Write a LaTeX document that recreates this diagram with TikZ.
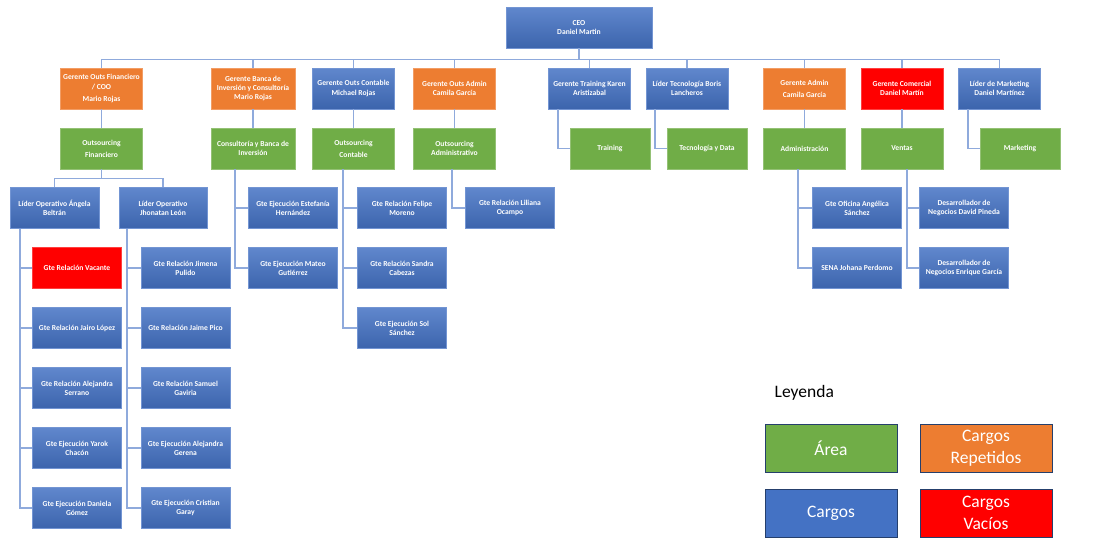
\documentclass[tikz,border=0pt]{standalone}
\usepackage{fontspec}
\setmainfont{Carlito}
\definecolor{cblue}{HTML}{4472C4}
\definecolor{corange}{HTML}{ED7D31}
\definecolor{cgreen}{HTML}{70AD47}
\definecolor{cred}{HTML}{FF0000}
\definecolor{clink}{HTML}{8FAADC}
\tikzset{
  every picture/.style={line width=0.8pt},
  box/.style={draw=#1!75!white, fill=#1, text=white, align=center, inner sep=1pt,
    minimum width=82pt, minimum height=41pt, font=\fontsize{7.6}{9.2}\selectfont\bfseries},
  box/.default=cblue,
  cargo/.style={box=cblue, top color=cblue!85!white, bottom color=cblue!88!black},
  hoja/.style={cargo, minimum width=89pt},
  vacante/.style={box=cred, minimum width=89pt},
  link/.style={draw=clink, line width=1.5pt},
  legbox/.style={draw=cblue!55!black, fill=#1, text=white, align=center, inner sep=1pt,
    minimum width=132pt, minimum height=48pt, font=\fontsize{17.5}{22}\selectfont},
}

\begin{document}
\begin{tikzpicture}[x=1pt, y=-1pt]
  \useasboundingbox (0,0) rectangle (1120,538);
  % direccion
  \node[cargo, minimum width=146pt] (ceo) at (579,27.5) {CEO\\Daniel Martin};
  % gerencias
  \node[box=corange] (gof) at (101.5,88.5) {Gerente Outs Financiero\\/ COO\\[3pt]Mario Rojas};
  \node[box=corange, minimum width=84pt] (gba) at (253,88.5) {Gerente Banca de\\Inversión y Consultoría\\Mario Rojas};
  \node[cargo] (goc) at (353.5,88.5) {Gerente Outs Contable\\Michael Rojas};
  \node[box=corange] (goa) at (454.5,88.5) {Gerente Outs Admin\\Camila García};
  \node[cargo] (gtr) at (589.5,88.5) {Gerente Training Karen\\Aristizabal};
  \node[cargo] (gtc) at (687,88.5) {Líder Tecnología Boris\\Lancheros};
  \node[box=corange] (gad) at (804.5,88.5) {Gerente Admin\\[3pt]Camila García};
  \node[box=cred] (gco) at (902,88.5) {Gerente Comercial\\Daniel Martín};
  \node[cargo] (gmk) at (999.5,88.5) {Líder de Marketing\\Daniel Martínez};
  % areas
  \node[box=cgreen] (fin) at (101.5,148.5) {Outsourcing\\[3pt]Financiero};
  \node[box=cgreen, minimum width=84pt] (cyb) at (253,148.5) {Consultoría y Banca de\\Inversión};
  \node[box=cgreen] (ctb) at (353.5,148.5) {Outsourcing\\[3pt]Contable};
  \node[box=cgreen] (oad) at (454.5,148.5) {Outsourcing\\Administrativo};
  \node[box=cgreen, minimum width=80pt] (trn) at (610,148.5) {Training};
  \node[box=cgreen, minimum width=80pt] (tec) at (707,148.5) {Tecnología y Data};
  \node[box=cgreen] (adm) at (804.5,148.5) {Administración};
  \node[box=cgreen] (ven) at (902,148.5) {Ventas};
  \node[box=cgreen, minimum width=80pt] (mkt) at (1020,148.5) {Marketing};
  % lideres operativos
  \node[hoja] (lan) at (54.5,208) {Líder Operativo Ángela\\Beltrán};
  \node[hoja, minimum width=88pt] (ljh) at (163,208) {Líder Operativo\\Jhonatan León};
  % equipo Angela
  \node[vacante] (a1) at (77,268) {Gte Relación Vacante};
  \node[hoja] (a2) at (77,328) {Gte Relación Jairo López};
  \node[hoja] (a3) at (77,388) {Gte Relación Alejandra\\Serrano};
  \node[hoja] (a4) at (77,448) {Gte Ejecución Yarok\\Chacón};
  \node[hoja] (a5) at (77,508) {Gte Ejecución Daniela\\Gómez};
  % equipo Jhonatan
  \node[hoja] (j1) at (185.5,268) {Gte Relación Jimena\\Pulido};
  \node[hoja] (j2) at (185.5,328) {Gte Relación Jaime Pico};
  \node[hoja] (j3) at (185.5,388) {Gte Relación Samuel\\Gaviria};
  \node[hoja] (j4) at (185.5,448) {Gte Ejecución Alejandra\\Gerena};
  \node[hoja] (j5) at (185.5,508) {Gte Ejecución Cristian\\Garay};
  % consultoria, contable, admin
  \node[hoja] (b1) at (293,208) {Gte Ejecución Estefanía\\Hernández};
  \node[hoja] (b2) at (293,268) {Gte Ejecución Mateo\\Gutiérrez};
  \node[hoja] (c1) at (402,208) {Gte Relación Felipe\\Moreno};
  \node[hoja] (c2) at (402,268) {Gte Relación Sandra\\Cabezas};
  \node[hoja] (c3) at (402,328) {Gte Ejecución Sol\\Sánchez};
  \node[hoja] (d1) at (510,208) {Gte Relación Liliana\\Ocampo};
  \node[hoja] (e1) at (857,208) {Gte Oficina Angélica\\Sánchez};
  \node[hoja] (e2) at (857,268) {SENA Johana Perdomo};
  \node[hoja] (v1) at (964,208) {Desarrollador de\\Negocios David Pineda};
  \node[hoja] (v2) at (964,268) {Desarrollador de\\Negocios Enrique García};
  % troncos
  \coordinate (tTr) at (558,0);
  \coordinate (tTc) at (655,0);
  \coordinate (tMk) at (968,0);
  \coordinate (tAn) at (20,0);
  \coordinate (tJh) at (127,0);
  \coordinate (tCy) at (235,0);
  \coordinate (tCt) at (343,0);
  \coordinate (tOa) at (452,0);
  \coordinate (tAd) at (798,0);
  \coordinate (tVe) at (907,0);
  % conectores
  \foreach \g in {gof,gba,goc,goa,gtr,gtc,gad,gco,gmk}
    \draw[link] (ceo.south) -- ++(0,11) -| (\g.north);
  \foreach \g/\a in {gof/fin,gba/cyb,goc/ctb,goa/oad,gad/adm,gco/ven}
    \draw[link] (\g) -- (\a);
  \draw[link] (gtr.south -| tTr) |- (trn.west);
  \draw[link] (gtc.south -| tTc) |- (tec.west);
  \draw[link] (gmk.south -| tMk) |- (mkt.west);
  \draw[link] (fin.south) -- ++(0,9) -| (lan.north);
  \draw[link] (fin.south) -- ++(0,9) -| (ljh.north);
  \foreach \c in {a1,a2,a3,a4,a5}
    \draw[link] (lan.south -| tAn) |- (\c.west);
  \foreach \c in {j1,j2,j3,j4,j5}
    \draw[link] (ljh.south -| tJh) |- (\c.west);
  \foreach \c in {b1,b2}
    \draw[link] (cyb.south -| tCy) |- (\c.west);
  \foreach \c in {c1,c2,c3}
    \draw[link] (ctb.south -| tCt) |- (\c.west);
  \draw[link] (oad.south -| tOa) |- (d1.west);
  \foreach \c in {e1,e2}
    \draw[link] (adm.south -| tAd) |- (\c.west);
  \foreach \c in {v1,v2}
    \draw[link] (ven.south -| tVe) |- (\c.west);
  % leyenda
  \node[anchor=west, font=\fontsize{17.5}{20}\selectfont] (ley) at (771,393) {Leyenda};
  \node[legbox=cgreen] (lar) at (831,448) {Área};
  \node[legbox=corange] (lre) at (986,448) {Cargos\\Repetidos};
  \node[legbox=cblue] (lca) at (831,513) {Cargos};
  \node[legbox=cred] (lva) at (986,513) {Cargos\\Vacíos};
\end{tikzpicture}
\end{document}
